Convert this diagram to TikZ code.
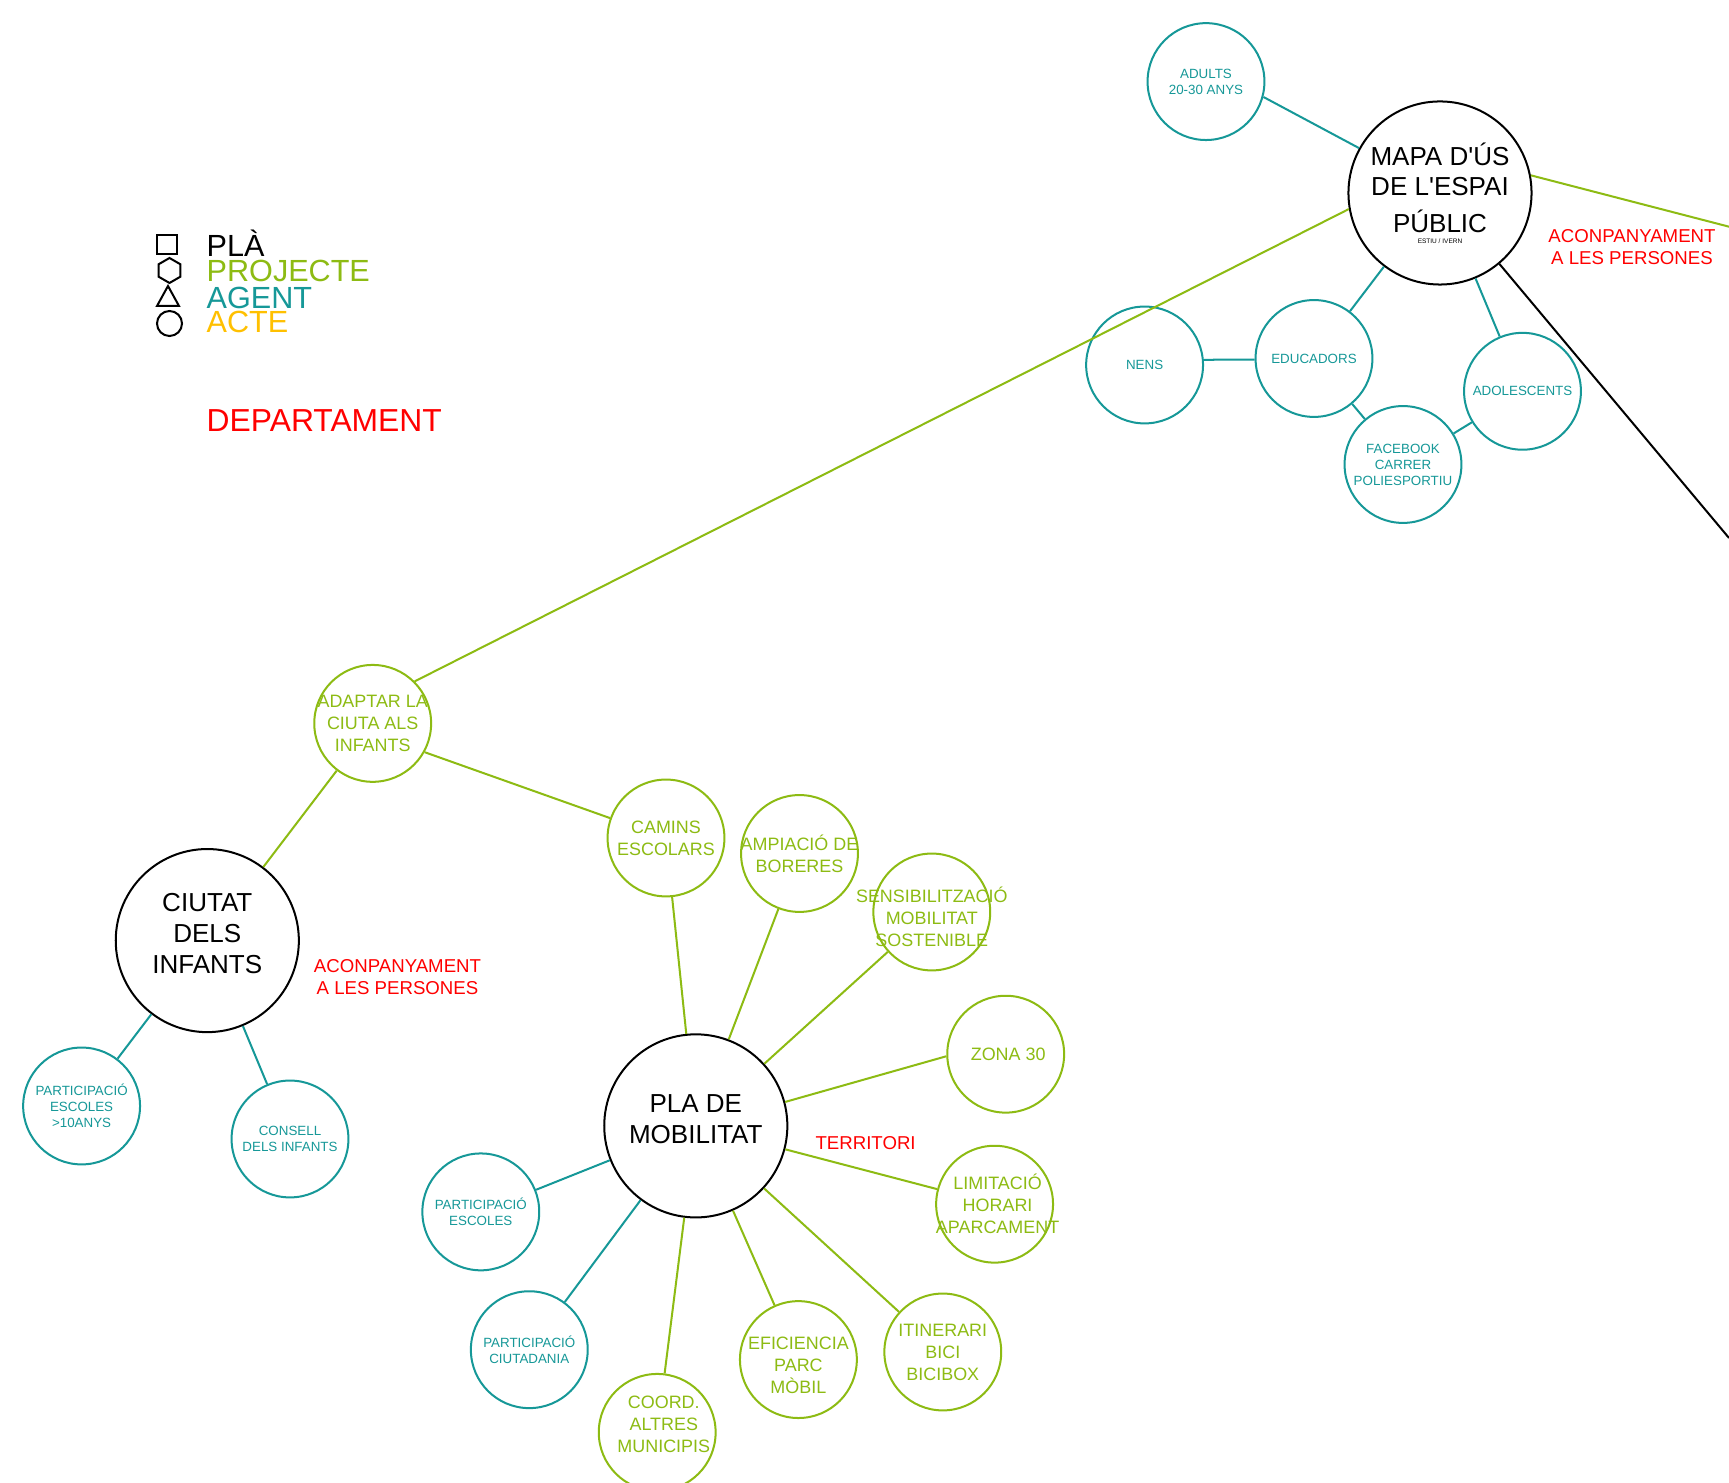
\documentclass[tikz,border=0pt]{standalone}
\usepackage{fontspec}
\setmainfont{Liberation Sans}[Ligatures=TeXOff]

\definecolor{pjgreen}{RGB}{141,187,19}
\definecolor{agteal}{RGB}{22,152,152}
\definecolor{acteamber}{RGB}{255,192,0}
\definecolor{deptred}{RGB}{255,0,0}

\tikzset{
  plan/.style={circle, draw=black, line width=0.57pt, minimum size=1.83cm, inner sep=0pt},
  proj/.style={circle, draw=pjgreen, line width=0.57pt, minimum size=1.168cm, inner sep=0pt},
  agent/.style={circle, draw=agteal, line width=0.57pt, minimum size=1.168cm, inner sep=0pt},
  plantxt/.style={align=center, text=black, font=\fontsize{7.4}{8.8}\selectfont},
  projtxt/.style={align=center, text=pjgreen, font=\fontsize{5.1}{6.26}\selectfont},
  agtxt/.style={align=center, text=agteal, font=\fontsize{3.8}{4.55}\selectfont},
  dept/.style={align=center, text=deptred, inner sep=0pt, font=\fontsize{5.3}{6.15}\selectfont},
  legend/.style={anchor=base west, inner sep=0pt, font=\fontsize{8.7}{10}\selectfont},
  pjlink/.style={draw=pjgreen, line width=0.57pt},
  aglink/.style={draw=agteal, line width=0.57pt},
}

\begin{document}
\begin{tikzpicture}[x=0.01cm, y=-0.01cm]
\path[use as bounding box, fill=white] (0,0) rectangle (1729,1483);

% Legend
\draw[line width=0.57pt] (157,235) rectangle (177,254);
\draw[line width=0.57pt] (169.5,270.5) +(90:12.5) -- +(150:12.5) -- +(210:12.5)
  -- +(270:12.5) -- +(330:12.5) -- +(30:12.5) -- cycle;
\draw[line width=0.57pt] (168,286) -- (179,306) -- (157,306) -- cycle;
\draw[line width=0.57pt] (169.5,323.5) circle (12.5);
\node[legend] (lg-plan) at (206,256.7) {PLÀ};
\node[legend, text=pjgreen] (lg-proj) at (206,281.7) {PROJECTE};
\node[legend, text=agteal] (lg-agent) at (206,309) {AGENT};
\node[legend, text=acteamber] (lg-acte) at (206,333) {ACTE};
\node[legend, text=deptred, font=\fontsize{9.05}{10}\selectfont] (lg-dept) at (206,431.7) {DEPARTAMENT};

% Mapa d'us de l'espai public
\node[plan, label={[plantxt]center:MAPA D'ÚS\\DE L'ESPAI\\[1.6pt]PÚBLIC\\[-5.7pt]{\fontsize{1.85}{2}\selectfont ESTIU / IVERN}}] (mapa) at (1440,193) {};
\node[agent, label={[agtxt]center:ADULTS\\20-30 ANYS}] (adults) at (1206,81.6) {};
\node[agent, label={[agtxt]center:NENS}] (nens) at (1144.6,365) {};
\node[agent, label={[agtxt]center:EDUCADORS}] (educ) at (1314,358.5) {};
\node[agent, label={[agtxt]center:ADOLESCENTS}] (adol) at (1522.5,391.3) {};
\node[agent, label={[agtxt]center:FACEBOOK\\CARRER\\POLIESPORTIU}] (fb) at (1403,464.5) {};
\node[dept] (acp-mapa) at (1632,247) {ACONPANYAMENT\\A LES PERSONES};

% Ciutat dels infants
\node[proj, label={[projtxt]center:ADAPTAR LA\\CIUTA ALS\\INFANTS}] (adapt) at (372.7,723.4) {};
\node[plan, label={[plantxt, yshift=0.067cm]center:CIUTAT\\DELS\\INFANTS}] (ciutat) at (207.3,940.6) {};
\node[agent, label={[agtxt]center:PARTICIPACIÓ\\ESCOLES\\>10ANYS}] (part10) at (81.6,1106) {};
\node[agent, label={[agtxt]center:CONSELL\\DELS INFANTS}] (consell) at (290,1139) {};
\node[dept] (acp-ciutat) at (397.5,977) {ACONPANYAMENT\\A LES PERSONES};

% Pla de mobilitat
\node[plan, label={[plantxt, yshift=0.07cm]center:PLA DE\\MOBILITAT}] (plamob) at (695.8,1125.9) {};
\node[proj, label={[projtxt]center:CAMINS\\ESCOLARS}] (camins) at (666,838) {};
\node[proj, label={[projtxt]center:AMPIACIÓ DE\\BORERES}] (ampia) at (799.5,853.5) {};
\node[proj, label={[projtxt, yshift=-0.05cm]center:SENSIBILITZACIÓ\\MOBILITAT\\SOSTENIBLE}] (sensib) at (931.8,912) {};
\node[proj, label={[projtxt, xshift=0.025cm]center:ZONA 30}] (zona) at (1005.7,1054.2) {};
\node[proj, label={[projtxt, xshift=0.03cm]center:LIMITACIÓ\\HORARI\\APARCAMENT}] (limit) at (994.6,1204.2) {};
\node[proj, label={[projtxt]center:ITINERARI\\BICI\\BICIBOX}] (itin) at (942.8,1352) {};
\node[proj, label={[projtxt, yshift=-0.055cm]center:EFICIENCIA\\PARC\\MÒBIL}] (efic) at (798.4,1359.6) {};
\node[proj, label={[projtxt, xshift=0.066cm, yshift=0.077cm]center:COORD.\\ALTRES\\MUNICIPIS}] (coord) at (657.2,1432.4) {};
\node[agent, label={[agtxt]center:PARTICIPACIÓ\\CIUTADANIA}] (partcit) at (529.3,1349.7) {};
\node[agent, label={[agtxt]center:PARTICIPACIÓ\\ESCOLES}] (partesc) at (480.8,1211.9) {};
\node[dept] (territori) at (865.6,1143) {TERRITORI};

% free ends leaving the page
\coordinate (mapaR) at (1729,226.7);
\coordinate (mapaB) at (1729,538);

% links
\draw[aglink] (adults.-15) -- (mapa.151);
\draw[aglink] (mapa) -- (educ);
\draw[aglink] (mapa) -- (adol);
\draw[aglink] (nens.5) -- (educ.181);
\draw[aglink] (educ) -- (fb);
\draw[aglink] (fb) -- (adol);
\draw[pjlink] (mapa.11) -- (mapaR);
\draw[line width=0.57pt] (mapa) -- (mapaB);
\draw[pjlink] (mapa.190) -- (adapt.45);
\draw[pjlink] (adapt) -- (ciutat);
\draw[pjlink] (adapt.-29) -- (camins);
\draw[aglink] (ciutat) -- (part10);
\draw[aglink] (ciutat) -- (consell);
\draw[pjlink] (camins) -- (plamob);
\draw[pjlink] (ampia) -- (plamob);
\draw[pjlink] (sensib) -- (plamob);
\draw[pjlink] (plamob.15) -- (zona.182);
\draw[pjlink] (plamob) -- (limit);
\draw[pjlink] (plamob) -- (itin);
\draw[pjlink] (plamob) -- (efic);
\draw[pjlink] (plamob) -- (coord);
\draw[aglink] (plamob) -- (partcit);
\draw[aglink] (plamob) -- (partesc);
\end{tikzpicture}
\end{document}
